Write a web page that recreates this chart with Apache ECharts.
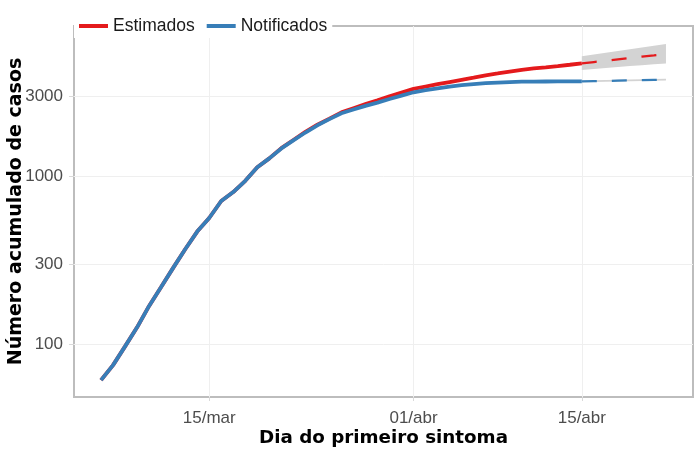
<!DOCTYPE html>
<html>
<head>
<meta charset="utf-8">
<script src="https://cdn.jsdelivr.net/npm/echarts@6/dist/echarts.min.js"></script>
<style>
html,body{margin:0;padding:0;background:#fff;}
#chart{width:700px;height:450px;}
</style>
</head>
<body>
<div id="chart"></div>
<script>
// ---- data ----
const solidDates = [
  '2020-03-06','2020-03-07','2020-03-08','2020-03-09','2020-03-10','2020-03-11','2020-03-12',
  '2020-03-13','2020-03-14','2020-03-15','2020-03-16','2020-03-17','2020-03-18','2020-03-19',
  '2020-03-20','2020-03-21','2020-03-22','2020-03-23','2020-03-24','2020-03-25','2020-03-26',
  '2020-03-27','2020-03-28','2020-03-29','2020-03-30','2020-03-31','2020-04-01','2020-04-02',
  '2020-04-03','2020-04-04','2020-04-05','2020-04-06','2020-04-07','2020-04-08','2020-04-09',
  '2020-04-10','2020-04-11','2020-04-12','2020-04-13','2020-04-14','2020-04-15'
];
const estimados = [
  61, 75, 97, 126, 169, 219, 285, 368, 469, 565, 714, 807, 942, 1135, 1282,
  1475, 1650, 1842, 2035, 2213, 2410, 2553, 2698, 2844, 3006, 3162, 3327, 3436,
  3548, 3656, 3767, 3882, 4009, 4111, 4217, 4325, 4406, 4477, 4550, 4634, 4721
];
const notificados = [
  61, 75, 97, 126, 169, 219, 285, 368, 469, 565, 714, 807, 942, 1135, 1282,
  1469, 1641, 1828, 2018, 2198, 2382, 2506, 2636, 2754, 2897, 3034, 3177, 3266,
  3350, 3428, 3508, 3556, 3597, 3631, 3656, 3673, 3681, 3683, 3684, 3684, 3685
];
const projDates = ['2020-04-15','2020-04-16','2020-04-17','2020-04-18','2020-04-19','2020-04-20','2020-04-21','2020-04-22'];
const estimadosProj  = [4721, 4810, 4900, 4990, 5080, 5180, 5270, 5370];
const estimadosLower = [4315, 4370, 4430, 4490, 4550, 4600, 4660, 4720];
const estimadosUpper = [5200, 5330, 5460, 5590, 5730, 5870, 6020, 6166];
const notificadosProj  = [3685, 3698, 3712, 3726, 3740, 3754, 3765, 3776];
const notificadosLower = [3645, 3655, 3668, 3680, 3692, 3705, 3716, 3727];
const notificadosUpper = [3725, 3741, 3756, 3772, 3788, 3803, 3814, 3825];

const xTickDates  = ['2020-03-15','2020-04-01','2020-04-15'];
const xTickLabels = ['15/mar','01/abr','15/abr'];
const yTickValues = [100, 300, 1000, 3000];
const yTickLabels = ['100','300','1000','3000'];

// ---- helpers ----
function ts(s, h) { const p = s.split('-'); return Date.UTC(+p[0], +p[1]-1, +p[2], h || 0); }
const xMin = ts('2020-03-03', 18);
const xMax = ts('2020-04-24', 6);
const xTickTs = xTickDates.map(d => ts(d));
const pair = (ds, vs) => ds.map((d, i) => [ts(d), vs[i]]);

function bandSeries(lower, upper, color) {
  const data = projDates.map((d, i) => [ts(d), lower[i], upper[i]]);
  return {
    type: 'custom', silent: true, z: 1,
    data: data,
    encode: { x: 0, y: [1, 2] },
    renderItem: function (params, api) {
      if (params.dataIndex !== 0) return;
      const pts = [];
      for (let i = 0; i < data.length; i++) pts.push(api.coord([data[i][0], data[i][2]]));
      for (let i = data.length - 1; i >= 0; i--) pts.push(api.coord([data[i][0], data[i][1]]));
      return { type: 'polygon', shape: { points: pts }, style: { fill: color } };
    }
  };
}

const RED = '#E41A1C', BLUE = '#377EB8';
const FONT = 'Liberation Sans';
const TITLE_FONT = 'DejaVu Sans';
const chart = echarts.init(document.getElementById('chart'), null, { renderer: 'canvas' });
chart.setOption({
  animation: false,
  backgroundColor: '#ffffff',
  grid: {
    left: 74, right: 7, top: 26, bottom: 53,
    show: true, borderColor: '#bdbdbd', borderWidth: 2,
    containLabel: false, outerBoundsMode: 'none'
  },
  legend: {
    left: 74, top: 14,
    data: ['Estimados', 'Notificados'],
    icon: 'rect', itemWidth: 29, itemHeight: 4, itemGap: 12,
    padding: [3, 5, 3, 5],
    backgroundColor: '#ffffff',
    textStyle: { fontFamily: FONT, fontSize: 17.5, color: '#1a1a1a' }
  },
  xAxis: {
    type: 'value', min: xMin, max: xMax,
    name: 'Dia do primeiro sintoma', nameLocation: 'middle', nameGap: 32.5, nameMoveOverlap: false,
    nameTextStyle: { fontFamily: TITLE_FONT, fontWeight: 'bold', fontSize: 18.3, color: '#000' },
    axisLine: { show: false },
    axisTick: { show: true, customValues: xTickTs, length: 4, lineStyle: { color: '#d9d9d9' } },
    axisLabel: {
      customValues: xTickTs, margin: 13,
      fontFamily: FONT, fontSize: 17, color: '#4d4d4d',
      formatter: function (v) { const i = xTickTs.indexOf(v); return i >= 0 ? xTickLabels[i] : ''; }
    },
    splitLine: { show: true, lineStyle: { color: '#efefef', width: 1 } }
  },
  yAxis: {
    type: 'log', logBase: 10, min: 48.4, max: 7890,
    name: 'Número acumulado de casos', nameLocation: 'middle', nameGap: 48, nameMoveOverlap: false,
    nameTextStyle: { fontFamily: TITLE_FONT, fontWeight: 'bold', fontSize: 19, color: '#000' },
    axisLine: { show: false },
    axisTick: { show: true, customValues: yTickValues, length: 5, lineStyle: { color: '#d9d9d9' } },
    axisLabel: {
      customValues: yTickValues, margin: 11,
      fontFamily: FONT, fontSize: 17, color: '#4d4d4d',
      formatter: function (v) { const i = yTickValues.findIndex(t => Math.abs(t - v) / t < 1e-6); return i >= 0 ? yTickLabels[i] : ''; }
    },
    splitLine: { show: true, lineStyle: { color: '#efefef', width: 1 } }
  },
  series: [
    bandSeries(estimadosLower, estimadosUpper, '#d3d3d3'),
    bandSeries(notificadosLower, notificadosUpper, '#d3d3d3'),
    {
      name: 'Estimados', type: 'line', data: pair(solidDates, estimados),
      showSymbol: false, symbol: 'none', z: 3,
      lineStyle: { color: RED, width: 3.8 }, itemStyle: { color: RED }
    },
    {
      name: 'Notificados', type: 'line', data: pair(solidDates, notificados),
      showSymbol: false, symbol: 'none', z: 4,
      lineStyle: { color: BLUE, width: 3.8 }, itemStyle: { color: BLUE }
    },
    {
      name: 'Estimados proj', type: 'line', data: pair(projDates, estimadosProj),
      showSymbol: false, symbol: 'none', z: 3,
      lineStyle: { color: RED, width: 2.3, type: [15, 15] }, itemStyle: { color: RED }
    },
    {
      name: 'Notificados proj', type: 'line', data: pair(projDates, notificadosProj),
      showSymbol: false, symbol: 'none', z: 4,
      lineStyle: { color: BLUE, width: 2.3, type: [15, 15] }, itemStyle: { color: BLUE }
    }
  ]
});
</script>
</body>
</html>
